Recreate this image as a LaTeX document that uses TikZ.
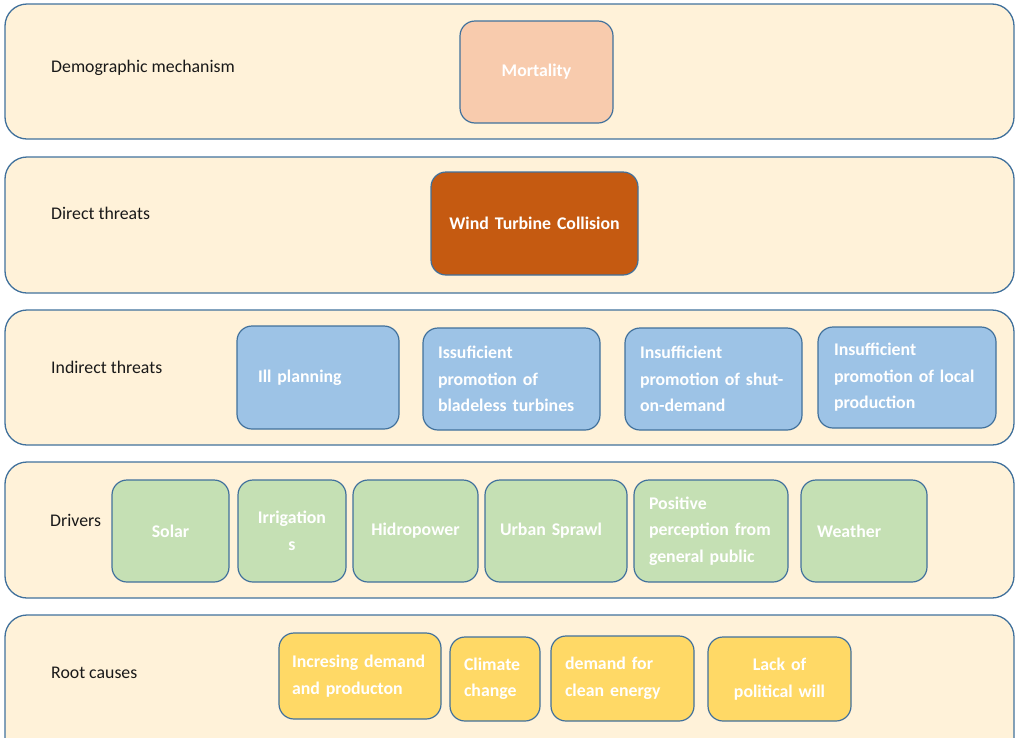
\documentclass[tikz,border=0pt]{standalone}
\usepackage{fontspec}
\setmainfont{Carlito}
\begin{document}
\begin{tikzpicture}[x=1pt,y=-1pt,
  band/.style={draw=edge, fill=bandfill, line width=1.3pt, rounded corners=22pt},
  cell/.style={draw=edge, line width=1.2pt, rounded corners=15pt, text=white,
    font=\fontsize{17.8}{26.5}\selectfont\bfseries, inner ysep=0pt},
  lbl/.style={anchor=west, inner sep=0pt, font=\fontsize{17.8}{21}\selectfont, text=black!90}]
\definecolor{edge}{RGB}{65,113,156}
\definecolor{bandfill}{RGB}{255,242,217}
\definecolor{peach}{RGB}{248,203,173}
\definecolor{rust}{RGB}{197,90,17}
\definecolor{skyblue}{RGB}{157,195,230}
\definecolor{sage}{RGB}{197,224,180}
\definecolor{gold}{RGB}{255,217,102}
\useasboundingbox (0,0) rectangle (1015,737);
\clip (0,0) rectangle (1015,737);

% layer bands
\draw[band] (5,4) rectangle (1014,139);
\draw[band] (5,157) rectangle (1014,293);
\draw[band] (5,310) rectangle (1014,445);
\draw[band] (5,462) rectangle (1014,598);
\draw[band] (5,615) rectangle (1014,760);

% layer titles
\node[lbl] (l1) at (51,68) {Demographic mechanism};
\node[lbl] (l2) at (51,213) {Direct threats};
\node[lbl] (l3) at (51,367) {Indirect threats};
\node[lbl] (l4) at (50,520) {Drivers};
\node[lbl] (l5) at (51,673) {Root causes};

% demographic mechanism
\node[cell, fill=peach, inner xsep=0pt, text width=153pt, minimum height=102pt, align=center] (mort) at (536.5,72) {Mortality};

% direct threats
\node[cell, fill=rust, inner xsep=0pt, text width=207pt, minimum height=103pt, align=center] (wind) at (534.5,223.5) {Wind Turbine Collision};

% indirect threats
\node[cell, fill=skyblue, inner xsep=21pt, text width=120pt, minimum height=103pt, align=left] (ill) at (318,377.5) {Ill planning};
\node[cell, fill=skyblue, inner xsep=15pt, text width=147pt, minimum height=102pt, align=left] (blade) at (511.5,379) {Issuficient\\promotion of\\bladeless turbines};
\node[cell, fill=skyblue, inner xsep=15pt, text width=147pt, minimum height=102pt, align=left] (shut) at (713.5,379) {Insufficient\\promotion of shut-\\on-demand};
\node[cell, fill=skyblue, inner xsep=16pt, text width=146pt, minimum height=101pt, align=left] (local) at (907,377.5) {Insufficient\\promotion of local\\production};

% drivers
\node[cell, fill=sage, inner xsep=0pt, text width=117pt, minimum height=102pt, align=center] (solar) at (170.5,531) {Solar};
\node[cell, fill=sage, inner xsep=0pt, text width=108pt, minimum height=102pt, align=center] (irr) at (292,531) {Irrigation\\s};
\node[cell, fill=sage, inner xsep=0pt, text width=125pt, minimum height=102pt, align=center] (hydro) at (415.5,531) {Hidropower};
\node[cell, fill=sage, inner xsep=15pt, text width=112pt, minimum height=102pt, align=left] (urban) at (556,531) {Urban Sprawl};
\node[cell, fill=sage, inner xsep=15pt, text width=124pt, minimum height=102pt, align=left] (public) at (711,531) {Positive\\perception from\\general public};
\node[cell, fill=sage, inner xsep=16pt, text width=94pt, minimum height=102pt, align=left] (weather) at (864,531) {Weather};

% root causes
\node[cell, fill=gold, inner xsep=13pt, text width=136pt, minimum height=86pt, align=left] (demand) at (360,676) {Incresing demand\\and producton};
\node[cell, fill=gold, inner xsep=14pt, text width=62pt, minimum height=84pt, align=left] (climate) at (495,679) {Climate\\change};
\node[cell, fill=gold, inner xsep=14pt, text width=115pt, minimum height=85pt, align=left] (clean) at (622.5,678.5) {demand for\\clean energy};
\node[cell, fill=gold, inner xsep=0pt, text width=143pt, minimum height=84pt, align=center] (will) at (779.5,679) {Lack of\\political will};
\end{tikzpicture}
\end{document}
